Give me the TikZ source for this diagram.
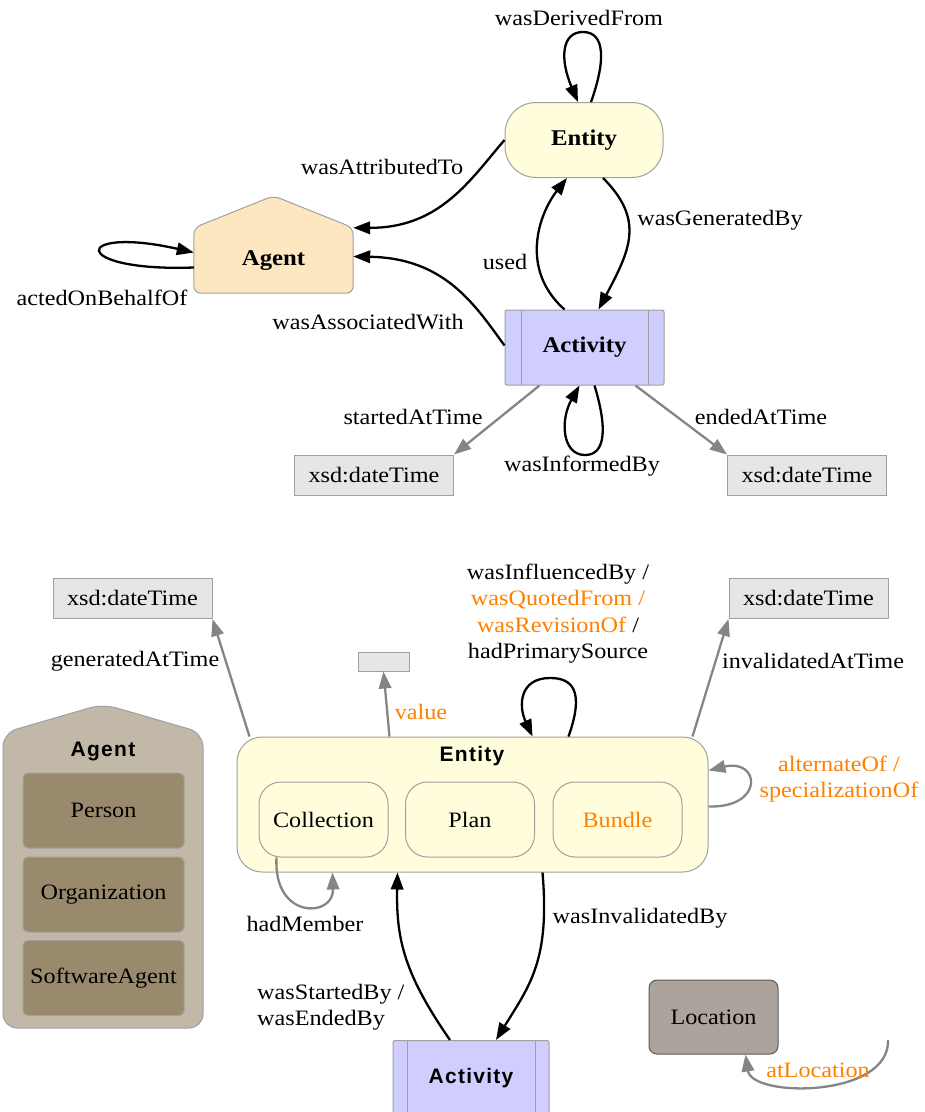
\documentclass[tikz,border=0pt]{standalone}
\usepackage{fontspec}
\setmainfont{Liberation Serif}[FakeStretch=1.1]
\newfontfamily\titlesans{Liberation Sans}[LetterSpace=6]
\usetikzlibrary{arrows.meta,calc,backgrounds}

\definecolor{entfill}{HTML}{FFFDDC}
\definecolor{agtfill}{HTML}{FDE7C0}
\definecolor{actfill}{HTML}{D0CEFF}
\definecolor{litfill}{HTML}{E6E6E6}
\definecolor{boxline}{HTML}{A0A0A0}
\definecolor{agcfill}{HTML}{C1B8A8}
\definecolor{agsfill}{HTML}{998A6E}
\definecolor{locfill}{HTML}{ABA39C}
\definecolor{locline}{HTML}{5A5A5A}
\definecolor{ext}{HTML}{FF8000}
\definecolor{dataline}{HTML}{858585}

\tikzset{
  txt/.style={font=\fontsize{22}{26.5}\selectfont, inner sep=0pt},
  boldtxt/.style={font=\fontsize{22.5}{26.5}\selectfont\bfseries, inner sep=0pt},
  sanstitle/.style={font=\titlesans\bfseries\fontsize{21}{25}\selectfont, inner sep=0pt},
  entitytop/.style={draw=boxline, fill=entfill, line width=1pt, rounded corners=31pt,
    minimum width=158pt, minimum height=75pt},
  agentbody/.style={minimum width=159pt, minimum height=65pt},
  housestyle/.style={draw=boxline, fill=agtfill, line width=1pt, rounded corners=7pt},
  activity/.style={draw=boxline, fill=actfill, line width=1pt, rounded corners=2pt,
    path picture={
      \draw[boxline, line width=1pt]
        ([xshift=#1]path picture bounding box.north west) -- ([xshift=#1]path picture bounding box.south west)
        ([xshift=-#1]path picture bounding box.north east) -- ([xshift=-#1]path picture bounding box.south east);
    }},
  literal/.style={draw=boxline, fill=litfill, line width=1pt, minimum width=159pt, minimum height=40pt},
  entbig/.style={draw=boxline, fill=entfill, line width=1pt, rounded corners=25pt,
    minimum width=471pt, minimum height=135pt},
  entsub/.style={draw=boxline, fill=entfill, line width=1pt, rounded corners=22pt,
    minimum width=129pt, minimum height=75pt},
  agsub/.style={draw=boxline, fill=agsfill, line width=1pt, rounded corners=5pt,
    minimum width=161pt, minimum height=75pt},
  locbox/.style={draw=locline, fill=locfill, line width=1pt, rounded corners=8pt,
    minimum width=129pt, minimum height=74pt},
  edge/.style={line width=2.3pt, -{Triangle[length=17pt,width=12.5pt]}},
  dataedge/.style={edge, draw=dataline},
}

\begin{document}
\begin{tikzpicture}[x=1pt,y=-1pt]
\useasboundingbox (0,0) rectangle (925,1112);

% ---------- core classes ----------
\node[entitytop, boldtxt] (ent1) at (584,140) {Entity};
\node[agentbody, boldtxt] (ag1) at (273.5,260.5) {Agent};
\begin{scope}[on background layer]
  \draw[housestyle] (ag1.south) -- (ag1.south west) -- (ag1.north west)
    -- ($(ag1.north)+(0,-32)$) -- (ag1.north east) -- (ag1.south east) -- cycle;
\end{scope}
\node[activity=16pt, boldtxt, minimum width=159pt, minimum height=75pt] (act1) at (584.5,347.5) {Activity};
\node[literal, txt, minimum width=159pt, minimum height=40pt] (dtS) at (374,475) {xsd:dateTime};
\node[literal, txt, minimum width=159pt, minimum height=40pt] (dtE) at (807,475) {xsd:dateTime};

\draw[edge] ([xshift=7pt]ent1.north) .. controls (606,60) and (605,32) .. (583,32)
  .. controls (561,32) and (560,60) .. ([xshift=-6pt]ent1.north);
\draw[edge] (ent1.west) .. controls (470,180) and (440,228) .. (ag1.north east);
\draw[edge] ([yshift=2pt]act1.west) .. controls (475,305) and (445,258) .. ([yshift=4pt]ag1.east);
\draw[edge] ([xshift=-20pt]act1.north) .. controls (520,270) and (538,215) .. ([xshift=-17pt]ent1.south);
\draw[edge] ([xshift=19pt]ent1.south) .. controls (645,220) and (630,250) .. ([xshift=14pt]act1.north);
\draw[edge] ([yshift=-7pt]ag1.west) .. controls (68,272) and (72,225) .. ([yshift=8pt]ag1.west);
\draw[dataedge] ([xshift=-45pt]act1.south) -- (dtS.north east);
\draw[dataedge] ([xshift=51pt]act1.south) -- (dtE.north west);
\draw[edge] ([xshift=10pt]act1.south) .. controls (608,430) and (605,455) .. (585,455)
  .. controls (562,455) and (560,420) .. ([xshift=-5pt]act1.south);

\node[txt] (lDer) at (579,18) {wasDerivedFrom};
\node[txt] (lAtt) at (382,167) {wasAttributedTo};
\node[txt] (lAss) at (368,322) {wasAssociatedWith};
\node[txt] (lUse) at (505,262) {used};
\node[txt] (lGen) at (720,220) {wasGeneratedBy};
\node[txt] (lAct) at (102,298) {actedOnBehalfOf};
\node[txt] (lSta) at (413,417) {startedAtTime};
\node[txt] (lEnd) at (761,417) {endedAtTime};
\node[txt] (lInfo) at (582,466) {wasInformedBy};

% ---------- expanded classes ----------
\node[literal, txt] (dtG) at (132.5,598.5) {xsd:dateTime};
\node[literal, minimum width=51pt, minimum height=19pt] (valbox) at (383.5,661.5) {};
\node[literal, txt] (dtI) at (808.5,598.5) {xsd:dateTime};

\node[entbig] (entB) at (472.5,804.5) {};
\node[sanstitle] (entBt) at (472,756) {Entity};
\node[entsub, txt] (coll) at (323.5,819.5) {Collection};
\node[entsub, txt] (plan) at (470,819.5) {Plan};
\node[entsub, txt, text=ext] (bund) at (617.5,819.5) {Bundle};

\draw[housestyle, fill=agcfill, rounded corners=14pt] (103,1028) -- (3,1028) -- (3,733)
  -- (103,704) -- (203,733) -- (203,1028) -- cycle;
\node[sanstitle] (agBt) at (103,751) {Agent};
\node[agsub, txt] (pers) at (103.5,810.5) {Person};
\node[agsub, txt] (org) at (103.5,894.5) {Organization};
\node[agsub, txt] (soft) at (103.5,978) {SoftwareAgent};

\node[activity=14pt, sanstitle, minimum width=156pt, minimum height=76pt, anchor=north] (actB) at (471,1040) {Activity};
\node[locbox, txt] (loc) at (713.5,1017) {Location};

\draw[dataedge] ([xshift=13pt]entB.north west) -- (dtG.south east);
\draw[dataedge] ([xshift=-83pt]entB.north) -- (valbox.south);
\draw[dataedge] ([xshift=-16pt]entB.north east) -- (dtI.south west);
\draw[edge] ([xshift=96pt]entB.north) .. controls (585,690) and (572,678) .. (550,678)
  .. controls (520,678) and (518,705) .. ([xshift=60pt]entB.north);
\draw[dataedge] ([yshift=-2pt]entB.east) .. controls (765,808) and (760,758) .. ([yshift=34pt]entB.east);
\draw[dataedge] ([xshift=-47pt]coll.south) .. controls (273,920) and (334,918) .. ([xshift=-140pt]entB.south);
\draw[edge] ([xshift=-21pt]actB.north) .. controls (405,975) and (396,940) .. ([xshift=-75pt]entB.south);
\draw[edge] ([xshift=70pt]entB.south) .. controls (550,960) and (530,985) .. ([xshift=25pt]actB.north);
\coordinate (atL) at (888,1040);
\draw[dataedge] (atL) .. controls (890,1098) and (752,1098) .. ([xshift=32pt]loc.south);

\node[txt] (lGAT) at (135,661) {generatedAtTime};
\node[txt, text=ext] (lVal) at (421,712) {value};
\node[txt] (lIAT) at (813,661) {invalidatedAtTime};
\node[txt, align=center] (lInf) at (558,613.5) {wasInfluencedBy /\\\textcolor{ext}{wasQuotedFrom /}\\\textcolor{ext}{wasRevisionOf} /\\hadPrimarySource};
\node[txt, align=center, text=ext] (lAlt) at (839,779) {alternateOf /\\specializationOf};
\node[txt] (lMem) at (305,924) {hadMember};
\node[txt, align=left, anchor=west] (lSE) at (257,1007) {wasStartedBy /\\wasEndedBy};
\node[txt] (lInv) at (640,918) {wasInvalidatedBy};
\node[txt, text=ext] (lLoc) at (818,1070) {atLocation};
\end{tikzpicture}
\end{document}
